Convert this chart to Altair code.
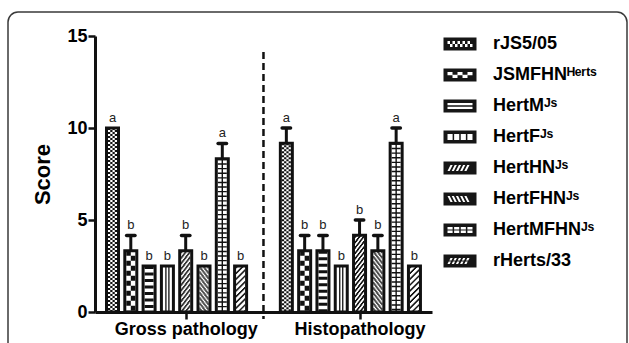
import altair as alt
import pandas as pd

# ---------------- data ----------------
groups = ["Gross pathology", "Histopathology"]
strains = ["rJS5/05", "JSMFHNᴴᵉʳᵗˢ", "HertMᴶˢ", "HertFᴶˢ", "HertHNᴶˢ",
           "HertFHNᴶˢ", "HertMFHNᴶˢ", "rHerts/33"]
gross_mean = [10.0, 3.33, 2.5, 2.5, 3.33, 2.5, 8.33, 2.5]
gross_sem = [0.0, 0.83, 0.0, 0.0, 0.83, 0.0, 0.83, 0.0]
gross_letter = ["a", "b", "b", "b", "b", "b", "a", "b"]
histo_mean = [9.17, 3.33, 3.33, 2.5, 4.17, 3.33, 9.17, 2.5]
histo_sem = [0.83, 0.83, 0.83, 0.0, 0.83, 0.83, 0.83, 0.0]
histo_letter = ["a", "b", "b", "b", "b", "b", "a", "b"]
y_ticks = [0, 5, 10, 15]

# ---------------- layout constants ----------------
PLOT_W, PLOT_H = 337, 276
STEP = 18.3          # px per bar slot
GROUP_SHIFT = 9.5    # slots between the two groups
FIRST = 17.5         # px from axis start to first bar centre
HALF = 6.0           # half bar width (px), stroke outside
CAP = 4.2            # half cap width (px)
x0 = -FIRST / STEP
xs = alt.Scale(domain=[x0, x0 + PLOT_W / STEP], nice=False, zero=False)
ys = alt.Scale(domain=[0, 15], nice=False)

rows = []
for g, (means, sems, letters) in enumerate([(gross_mean, gross_sem, gross_letter),
                                            (histo_mean, histo_sem, histo_letter)]):
    for i, s in enumerate(strains):
        pos = i + g * GROUP_SHIFT
        rows.append(dict(group=groups[g], idx=i, strain=s, pos=pos,
                         mean=means[i], sem=sems[i], top=means[i] + sems[i],
                         letter=letters[i], base=0.0, hidden=-5.0,
                         left=pos - HALF / STEP, right=pos + HALF / STEP,
                         capl=pos - CAP / STEP, capr=pos + CAP / STEP))
df = pd.DataFrame(rows)

sep_df = pd.DataFrame({"pos": [(len(strains) - 1 + GROUP_SHIFT) / 2]})
tick_vals = [4 + g * GROUP_SHIFT for g in range(len(groups))]
label_expr = f"datum.value < {GROUP_SHIFT} ? '{groups[0]}' : '{groups[1]}'"

X_AXIS = alt.Axis(values=tick_vals, labelExpr=label_expr, title=None,
                  labelPadding=1, labelFontSize=18)
Y_AXIS = alt.Axis(values=y_ticks, title="Score", titleFontSize=22,
                  titlePadding=12, labelPadding=1, labelFontSize=18)


def X(field):
    return alt.X(field, scale=xs, axis=X_AXIS, title=None)


def Y(field):
    return alt.Y(field, scale=ys, axis=Y_AXIS, title="Score")


# bar interior patterns: (x offset px, width px, dash, dash offset)
PATTERNS = {
    0: [(-3.375, 2.25, [2, 2], 0), (-1.125, 2.25, [2, 2], 2),
        (1.125, 2.25, [2, 2], 0), (3.375, 2.25, [2, 2], 2)],
    1: [(-2.25, 4.5, [5, 5], 0), (2.25, 4.5, [5, 5], 5)],
    2: [(0, 9, [3, 3.5], 0)],
    3: [(-1.5, 1.3, None, 0), (1.5, 1.3, None, 0)],
    4: [(-4 + k, 1.05, [2.6, 2.8], k * 1.3) for k in range(9)],
    5: [(-4 + k, 1.05, [2.6, 2.6], (8 - k) * 1.3) for k in range(9)],
    6: [(0, 9, [1.4, 3.2], 0), (0, 1.4, None, 0)],
    7: [(-4 + k, 1.05, [2.2, 3.6], k * 1.0) for k in range(9)],
}

# legend symbol paths (px -> path units, 8.25 px per unit)
U = 8.25


def P(x, y):
    return f"{x / U:.3f},{y / U:.3f}"


def outer():
    return f"M{P(-16.5, -6.5)}L{P(16.5, -6.5)}L{P(16.5, 6.5)}L{P(-16.5, 6.5)}Z"


def hole_rect(xa, ya, xb, yb):
    return f"M{P(xa, ya)}L{P(xa, yb)}L{P(xb, yb)}L{P(xb, ya)}Z"


def hole_poly(pts):
    return "M" + "L".join(P(*p) for p in pts) + "Z"


def sym(k):
    s = outer()
    if k == 0:
        for c in range(10):
            for r in range(2):
                if (c + r) % 2 == 0:
                    s += hole_rect(-12.5 + c * 2.5, -3 + r * 3, -10 + c * 2.5, r * 3)
    elif k == 1:
        for b in range(5):
            if b % 2 == 0:
                s += hole_rect(-12.5 + b * 5, -3, -7.5 + b * 5, 0.3)
            else:
                s += hole_rect(-12.5 + b * 5, -0.3, -7.5 + b * 5, 3)
    elif k == 2:
        s += hole_rect(-12.5, -3, 12.5, -0.75) + hole_rect(-12.5, 0.75, 12.5, 3)
    elif k == 3:
        w = (25 - 3 * 1.5) / 4
        for c in range(4):
            xa = -12.5 + c * (w + 1.5)
            s += hole_rect(xa, -3, xa + w, 3)
    elif k == 4:
        for x in [-12.5, -8.3, -4.1, 0.1, 4.3]:
            s += hole_poly([(x + 3, -3), (x, 3), (x + 2.2, 3), (x + 5.2, -3)])
    elif k == 5:
        for x in [-12.5, -8.3, -4.1, 0.1, 4.3]:
            s += hole_poly([(x, -3), (x + 3, 3), (x + 5.2, 3), (x + 2.2, -3)])
    elif k == 6:
        w = (25 - 3 * 1.5) / 4
        for c in range(4):
            xa = -12.5 + c * (w + 1.5)
            s += hole_rect(xa, -3, xa + w, -0.6) + hole_rect(xa, 0.6, xa + w, 3)
    elif k == 7:
        for x in [-12.5, -8.3, -4.1, 0.1, 4.3]:
            def xl(y):
                return x + (3 - y) / 2
            for ya, yb in [(-3, -0.5), (0.5, 3)]:
                s += hole_poly([(xl(ya), ya), (xl(yb), yb), (xl(yb) + 2.2, yb), (xl(ya) + 2.2, ya)])
    return s


sym_paths = [sym(k) for k in range(len(strains))]

# ---------------- layers ----------------
base = alt.Chart(df)

frame = alt.Chart(pd.DataFrame({"k": [0]})).mark_rect(
    fill="transparent", stroke="#3a3a3a", strokeWidth=1.5, cornerRadius=10
).encode(x=alt.value(-87), x2=alt.value(532), y=alt.value(-24), y2=alt.value(330))

sep = alt.Chart(sep_df).mark_rule(strokeDash=[7, 4], strokeWidth=2.5, color="#111").encode(
    x=X("pos:Q"), y=alt.value(16), y2=alt.value(283))

bars_fill = base.mark_rect(fill="white").encode(
    x=X("left:Q"), x2="right:Q", y=Y("mean:Q"), y2="base:Q")

pattern_layers = []
for k, cols in PATTERNS.items():
    for (off, w, dash, doff) in cols:
        props = dict(strokeWidth=w, color="#111", strokeCap="butt")
        if dash is not None:
            props["strokeDash"] = dash
            props["strokeDashOffset"] = doff
        pattern_layers.append(
            base.transform_filter(alt.datum.idx == k)
            .transform_calculate(xc=f"datum.pos + {off / STEP}")
            .mark_rule(**props)
            .encode(x=X("xc:Q"), y=Y("mean:Q"), y2="base:Q"))

outline = base.mark_rect(fill="transparent", stroke="#111", strokeWidth=3).encode(
    x=X("left:Q"), x2="right:Q", y=Y("mean:Q"), y2="base:Q")

err = base.transform_filter(alt.datum.sem > 0)
stem = err.mark_rule(strokeWidth=3, color="#111").encode(
    x=X("pos:Q"), y=Y("mean:Q"), y2="top:Q")
cap = err.mark_rule(strokeWidth=3.5, color="#111", strokeCap="round").encode(
    x=X("capl:Q"), x2="capr:Q", y=Y("top:Q"))

letters = base.mark_text(fontSize=13, font="Liberation Sans", baseline="bottom",
                         dy=-3, fill="#222").encode(
    x=X("pos:Q"), y=Y("top:Q"), text="letter:N")

legend_layer = base.transform_filter(alt.datum.group == groups[0]).mark_point(
    filled=True, color="#161616", opacity=1, clip=True).encode(
    x=X("pos:Q"), y=Y("hidden:Q"),
    shape=alt.Shape("strain:N", scale=alt.Scale(domain=strains, range=sym_paths),
                    legend=alt.Legend(orient="none", legendX=356, legendY=-1, title=None,
                                      labelFont="Liberation Sans", labelFontSize=18,
                                      labelFontWeight="bold", labelColor="black",
                                      labelOffset=24, rowPadding=13, symbolSize=272.25,
                                      symbolStrokeWidth=0, padding=0, labelLimit=0)))

chart = alt.layer(frame, sep, bars_fill, *pattern_layers, outline, stem, cap, letters,
                  legend_layer).properties(
    width=PLOT_W, height=PLOT_H,
    padding={"left": 95, "top": 36, "right": 197, "bottom": 31},
    autosize=alt.AutoSizeParams(type="none"),
).configure_view(stroke=None).configure_axis(
    domainWidth=3, domainColor="#111", tickWidth=2.5, tickColor="#111", tickSize=7,
    labelFont="Liberation Sans", labelFontWeight="bold", labelColor="black",
    titleFont="Liberation Sans", titleFontWeight="bold", titleColor="black", grid=False,
)

chart.save("out.html", embed_options={"renderer": "svg", "actions": False})
